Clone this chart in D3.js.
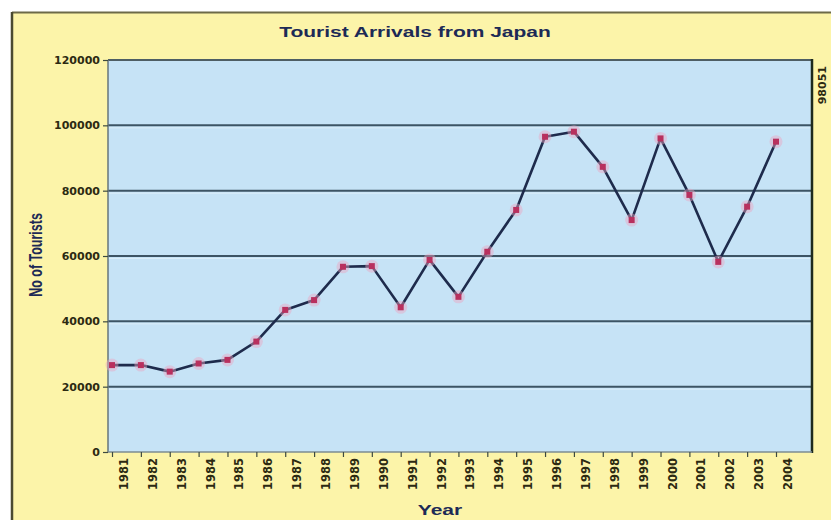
<!DOCTYPE html>
<html>
<head>
<meta charset="utf-8">
<script src="https://cdn.jsdelivr.net/npm/d3@7/dist/d3.min.js"></script>
<style>
  html, body { margin: 0; padding: 0; background: #ffffff; }
  svg { display: block; }
</style>
</head>
<body>
<script>
// Tourist arrivals from Japan, 1981-2004
const years = ["1981","1982","1983","1984","1985","1986","1987","1988","1989","1990","1991","1992",
               "1993","1994","1995","1996","1997","1998","1999","2000","2001","2002","2003","2004"];
const arrivals = [26600, 26600, 24600, 27100, 28200, 33800, 43500, 46500, 56700, 56900, 44300, 58800,
                  47500, 61300, 74100, 96500, 98051, 87300, 71000, 96000, 78700, 58200, 75100, 95000];
const yTicks = [0, 20000, 40000, 60000, 80000, 100000, 120000];
const chartTitle = "Tourist Arrivals from Japan";
const xTitle = "Year";
const yTitle = "No of Tourists";

const W = 831, H = 520;
const plot = { left: 108, right: 812, top: 60, bottom: 452 };
// the chart's lettering is drawn wide: glyphs are stretched horizontally
const widen = 1.5;

const svg = d3.select("body").append("svg").attr("width", W).attr("height", H);

// outer panel
svg.append("rect").attr("x", 0).attr("y", 0).attr("width", W).attr("height", H).attr("fill", "#ffffff");
svg.append("rect").attr("x", 12).attr("y", 12).attr("width", W - 12).attr("height", H - 12)
  .attr("fill", "#fcf4a9");
svg.append("line").attr("x1", 12).attr("x2", W).attr("y1", 12.5).attr("y2", 12.5)
  .attr("stroke", "#6d6a48").attr("stroke-width", 2);
svg.append("line").attr("x1", 12).attr("x2", 12).attr("y1", 12).attr("y2", H)
  .attr("stroke", "#4a4a30").attr("stroke-width", 2.5);

// plot area
svg.append("rect").attr("x", plot.left).attr("y", plot.top)
  .attr("width", plot.right - plot.left).attr("height", plot.bottom - plot.top)
  .attr("fill", "#c6e3f6");

const x = d3.scalePoint().domain(years).range([plot.left + 4, plot.left + 668]);
const y = d3.scaleLinear().domain([0, 120000]).range([plot.bottom, plot.top]);

// gridlines
const inner = yTicks.filter(v => v > 0 && v < 120000);
const grid = svg.append("g");
grid.selectAll("line.g").data(inner).join("line")
  .attr("class", "g")
  .attr("x1", plot.left).attr("x2", plot.right)
  .attr("y1", d => y(d)).attr("y2", d => y(d))
  .attr("stroke", "#3d5464").attr("stroke-width", 2);
grid.selectAll("line.h").data(inner).join("line")
  .attr("class", "h")
  .attr("x1", plot.left).attr("x2", plot.right)
  .attr("y1", d => y(d) + 2.5).attr("y2", d => y(d) + 2.5)
  .attr("stroke", "#e6f3fb").attr("stroke-width", 1).attr("opacity", 0.7);

// plot frame
svg.append("line").attr("x1", plot.left).attr("x2", plot.right).attr("y1", plot.top).attr("y2", plot.top)
  .attr("stroke", "#4e5e64").attr("stroke-width", 2);
svg.append("line").attr("x1", plot.left).attr("x2", plot.left).attr("y1", plot.top).attr("y2", plot.bottom)
  .attr("stroke", "#66767c").attr("stroke-width", 1.5);
svg.append("line").attr("x1", plot.right).attr("x2", plot.right).attr("y1", plot.top - 1).attr("y2", plot.bottom + 1)
  .attr("stroke", "#1d2a1d").attr("stroke-width", 2.5);
svg.append("line").attr("x1", plot.left).attr("x2", plot.right).attr("y1", plot.bottom).attr("y2", plot.bottom)
  .attr("stroke", "#7d8c92").attr("stroke-width", 1.5);

// y axis
const yAxis = svg.append("g").attr("transform", `translate(${plot.left},0)`)
  .call(d3.axisLeft(y).tickValues(yTicks).tickSize(5).tickPadding(3).tickFormat(d3.format("d")));
yAxis.select(".domain").remove();
yAxis.selectAll(".tick line").attr("stroke", "#3d4a40").attr("stroke-width", 1.2);
yAxis.selectAll(".tick text")
  .attr("fill", "#2c2a12")
  .style("font-family", "'DejaVu Sans', sans-serif")
  .style("font-weight", "bold")
  .style("font-size", "11px");

// x axis
const xAxis = svg.append("g").attr("transform", `translate(0,${plot.bottom})`)
  .call(d3.axisBottom(x).tickSize(5).tickFormat(""));
xAxis.select(".domain").remove();
xAxis.selectAll(".tick line").attr("stroke", "#3d4a40").attr("stroke-width", 1.2);

svg.append("g").selectAll("text").data(years).join("text")
  .attr("transform", d => `translate(${x(d) + 12},${plot.bottom + 6}) rotate(-90)`)
  .attr("text-anchor", "end")
  .attr("dominant-baseline", "central")
  .attr("fill", "#2c2a12")
  .style("font-family", "'DejaVu Sans', sans-serif")
  .style("font-weight", "bold")
  .style("font-size", "11.5px")
  .text(d => d);

// series line
const points = years.map((yr, i) => ({ yr, v: arrivals[i] }));
svg.append("path").datum(points)
  .attr("fill", "none")
  .attr("stroke", "#1e2b4c")
  .attr("stroke-width", 2.6)
  .attr("stroke-linejoin", "round")
  .attr("d", d3.line().x(d => x(d.yr)).y(d => y(d.v)));

// markers
const mk = svg.append("g");
mk.selectAll("circle").data(points).join("circle")
  .attr("cx", d => x(d.yr)).attr("cy", d => y(d.v)).attr("r", 6.5)
  .attr("fill", "#eaa5c2").attr("opacity", 0.45);
mk.selectAll("rect").data(points).join("rect")
  .attr("x", d => x(d.yr) - 3).attr("y", d => y(d.v) - 3)
  .attr("width", 6).attr("height", 6)
  .attr("fill", "#b8305e");

// peak value label at the top right
svg.append("text")
  .attr("transform", `translate(${plot.right + 10},${plot.top + 6}) rotate(-90)`)
  .attr("text-anchor", "end")
  .attr("dominant-baseline", "central")
  .attr("fill", "#2c2a12")
  .style("font-family", "'DejaVu Sans', sans-serif")
  .style("font-weight", "bold")
  .style("font-size", "11px")
  .text(d3.max(arrivals));

// titles
const titleFont = "'Liberation Sans', Arial, sans-serif";
svg.append("text")
  .attr("transform", `translate(415,37) scale(${widen},1)`)
  .attr("text-anchor", "middle")
  .attr("fill", "#1d2a56")
  .style("font-family", titleFont)
  .style("font-weight", "bold").style("font-size", "14px")
  .text(chartTitle);

svg.append("text")
  .attr("transform", `translate(440,515) scale(${widen},1)`)
  .attr("text-anchor", "middle")
  .attr("fill", "#1d2a56")
  .style("font-family", titleFont)
  .style("font-weight", "bold").style("font-size", "14px")
  .text(xTitle);

svg.append("text")
  .attr("transform", `translate(36,255) scale(${widen},1) rotate(-90)`)
  .attr("text-anchor", "middle")
  .attr("dominant-baseline", "central")
  .attr("fill", "#1d2a56")
  .style("font-family", titleFont)
  .style("font-weight", "bold").style("font-size", "12.5px")
  .text(yTitle);
</script>
</body>
</html>
